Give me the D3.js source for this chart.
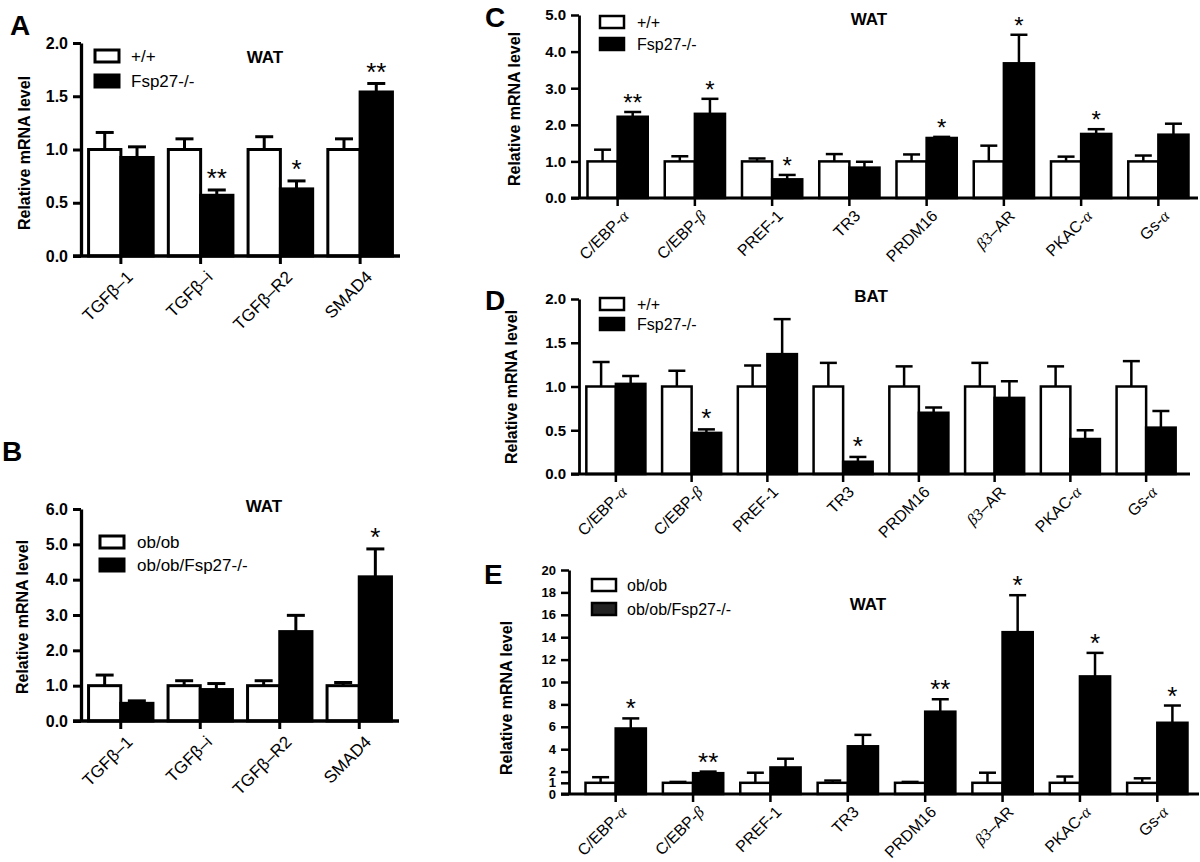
<!DOCTYPE html>
<html>
<head>
<meta charset="utf-8">
<script src="https://cdn.jsdelivr.net/npm/d3@7"></script>
<style>
  html, body { margin: 0; padding: 0; background: #fff; }
  svg { display: block; font-family: Arial, "Liberation Sans", sans-serif; }
</style>
</head>
<body>
<svg id="fig" width="1200" height="862"></svg>
<script>
// Gene panels. Means are relative to wild type (1.0),
// errors are the upward SEM bar length.
const tgfGenes = ["TGFβ–1", "TGFβ–i", "TGFβ–R2", "SMAD4"];
const fatGenes = ["C/EBP-α", "C/EBP-β", "PREF-1", "TR3", "PRDM16", "β3–AR", "PKAC-α", "Gs-α"];

// A: WAT, +/+ vs Fsp27-/-
const aWtMean = [1, 1, 1, 1];
const aWtErr = [0.16, 0.10, 0.12, 0.10];
const aKoMean = [0.925, 0.57, 0.63, 1.54];
const aKoErr = [0.10, 0.05, 0.075, 0.08];
const aStars = ["", "**", "*", "**"];

// B: WAT, ob/ob vs ob/ob/Fsp27-/-
const bWtMean = [1, 1, 1, 1];
const bWtErr = [0.30, 0.14, 0.14, 0.09];
const bKoMean = [0.50, 0.89, 2.53, 4.08];
const bKoErr = [0.07, 0.17, 0.46, 0.79];
const bStars = ["", "", "", "*"];

// C: WAT, +/+ vs Fsp27-/-
const cWtMean = [1, 1, 1, 1, 1, 1, 1, 1];
const cWtErr = [0.32, 0.14, 0.08, 0.20, 0.19, 0.43, 0.13, 0.16];
const cKoMean = [2.22, 2.30, 0.51, 0.83, 1.64, 3.68, 1.75, 1.73];
const cKoErr = [0.13, 0.41, 0.12, 0.16, 0.03, 0.78, 0.13, 0.30];
const cStars = ["**", "*", "*", "", "*", "*", "*", ""];

// D: BAT, +/+ vs Fsp27-/-
const dWtMean = [1, 1, 1, 1, 1, 1, 1, 1];
const dWtErr = [0.28, 0.18, 0.24, 0.27, 0.23, 0.27, 0.23, 0.29];
const dKoMean = [1.03, 0.47, 1.37, 0.14, 0.70, 0.87, 0.40, 0.53];
const dKoErr = [0.09, 0.04, 0.40, 0.055, 0.06, 0.19, 0.10, 0.19];
const dStars = ["", "*", "", "*", "", "", "", ""];

// E: WAT, ob/ob vs ob/ob/Fsp27-/-
const eWtMean = [1, 1, 1, 1, 1, 1, 1, 1];
const eWtErr = [0.5, 0.08, 0.9, 0.2, 0.08, 0.9, 0.56, 0.4];
const eKoMean = [5.85, 1.86, 2.37, 4.26, 7.35, 14.45, 10.5, 6.36];
const eKoErr = [0.9, 0.14, 0.78, 1.02, 1.11, 3.3, 2.1, 1.54];
const eStars = ["*", "**", "", "", "**", "*", "*", "*"];

const tick2 = [0, 0.5, 1.0, 1.5, 2.0];
const tick5 = [0, 1, 2, 3, 4, 5];
const tick6 = [0, 1, 2, 3, 4, 5, 6];
const tick20 = [0, 1, 2, 4, 6, 8, 10, 12, 14, 16, 18, 20];

const svg = d3.select("#fig");

// Greek letters in the C/D/E gene names are set in an italic serif, like the original.
function labelText(sel, s, greekSerif) {
  if (!greekSerif) { sel.text(s); return; }
  s.split(/(β3|α|β)/).filter((p) => p).forEach((p) => {
    const t = sel.append("tspan").text(p);
    if (/^(β3|α|β)$/.test(p)) t.attr("font-family", "'Liberation Serif', 'DejaVu Serif', serif").attr("font-style", "italic");
  });
}

function panel(o) {
  const g = svg.append("g");
  const y = d3.scaleLinear().domain([0, o.ymax]).range([o.y0, o.y1]);
  const x0 = d3.scaleBand().domain(o.genes).range(o.band).paddingInner(o.pad).paddingOuter(o.pad / 2);
  const x1 = d3.scaleBand().domain(["wt", "ko"]).range([0, x0.bandwidth()]);

  const rows = o.genes.map((gene, i) => ({
    gene, star: o.stars[i],
    bars: [
      { k: "wt", v: o.wt[i], e: o.wtErr[i] },
      { k: "ko", v: o.ko[i], e: o.koErr[i] },
    ],
  }));

  // y axis
  const yAxis = d3.axisLeft(y).tickValues(o.ticks).tickFormat(o.fmt).tickSize(8).tickSizeOuter(0).tickPadding(5);
  const ya = g.append("g").attr("transform", `translate(${o.axisX},0)`).call(yAxis);
  ya.select(".domain").attr("stroke-width", o.sw + 0.3);
  ya.selectAll(".tick line").attr("stroke-width", o.sw);
  ya.selectAll(".tick text").attr("font-size", o.tickFs).attr("font-weight", "bold").attr("fill", "#000")
    .attr("font-family", "Arial, 'Liberation Sans', sans-serif");

  // bars
  const grp = g.selectAll(".gene").data(rows).join("g")
    .attr("transform", (d) => `translate(${x0(d.gene)},0)`);
  const bw = x1.bandwidth();
  grp.selectAll("line.err").data((d) => d.bars).join("line").attr("class", "err")
    .attr("x1", (d) => x1(d.k) + bw / 2).attr("x2", (d) => x1(d.k) + bw / 2)
    .attr("y1", (d) => y(d.v)).attr("y2", (d) => y(d.v + d.e))
    .attr("stroke", "#000").attr("stroke-width", o.sw);
  grp.selectAll("line.cap").data((d) => d.bars).join("line").attr("class", "cap")
    .attr("x1", (d) => x1(d.k) + bw / 2 - o.cap / 2).attr("x2", (d) => x1(d.k) + bw / 2 + o.cap / 2)
    .attr("y1", (d) => y(d.v + d.e)).attr("y2", (d) => y(d.v + d.e))
    .attr("stroke", "#000").attr("stroke-width", o.sw);
  grp.selectAll("rect").data((d) => d.bars).join("rect")
    .attr("x", (d) => x1(d.k)).attr("width", bw)
    .attr("y", (d) => y(d.v)).attr("height", (d) => y(0) - y(d.v))
    .attr("fill", (d) => (d.k === "wt" ? "#fff" : "#000"))
    .attr("stroke", "#000").attr("stroke-width", o.sw);

  // significance stars above the knockout bar
  grp.append("text")
    .attr("x", x1("ko") + bw / 2)
    .attr("y", (d) => y(d.bars[1].v + d.bars[1].e) - o.starGap + 0.58 * o.starFs)
    .attr("text-anchor", "middle").attr("font-size", o.starFs)
    .text((d) => d.star);

  // x axis line and ticks
  g.append("line").attr("x1", o.axisX - 8).attr("x2", o.axisEnd).attr("y1", o.y0).attr("y2", o.y0)
    .attr("stroke", "#000").attr("stroke-width", o.sw + 0.3);
  g.selectAll("line.xt").data(o.genes).join("line").attr("class", "xt")
    .attr("x1", (d) => x0(d) + x0.bandwidth() / 2).attr("x2", (d) => x0(d) + x0.bandwidth() / 2)
    .attr("y1", o.y0).attr("y2", o.y0 + 8).attr("stroke", "#000").attr("stroke-width", o.sw);
  // gene names slanted up-right at 45 degrees, ending just right of their tick
  g.selectAll("text.xl").data(o.genes).join("text").attr("class", "xl")
    .attr("transform", (d) => `translate(${x0(d) + x0.bandwidth() / 2 + o.lblDx},${o.y0 + o.lblDy}) rotate(-45)`)
    .attr("text-anchor", "end").attr("font-size", o.lblFs)
    .each(function (d) { labelText(d3.select(this), d, o.greekSerif); });

  // axis title
  g.append("text").attr("transform", `translate(${o.titleX},${o.titleY}) rotate(-90)`)
    .attr("text-anchor", "middle").attr("font-size", 16).attr("font-weight", "bold")
    .text("Relative mRNA level");

  // tissue label
  g.append("text").attr("x", o.tissueX).attr("y", o.tissueY).attr("text-anchor", "middle")
    .attr("font-size", 17).attr("font-weight", "bold").text(o.tissue);

  // legend
  o.legend.forEach((name, i) => {
    const ly = o.legY[i];
    g.append("rect").attr("x", o.legX).attr("y", ly).attr("width", 24).attr("height", 12)
      .attr("fill", i === 0 ? "#fff" : o.legDark).attr("stroke", "#000").attr("stroke-width", o.sw);
    g.append("text").attr("x", o.legX + o.legTx).attr("y", ly + 12).attr("font-size", o.legFs).text(name);
  });

  // panel letter
  g.append("text").attr("x", o.letterX).attr("y", o.letterY).attr("font-size", 28)
    .attr("font-weight", "bold").text(o.letter);
}

const small = { sw: 2.5, cap: 17, tickFs: 15, lblFs: 16, lblDx: 12, lblDy: 19, legFs: 16, pad: 0.22, greekSerif: true, legDark: "#000" };
const big = { sw: 3, cap: 18, tickFs: 16, lblFs: 17, lblDx: 13, lblDy: 22, legFs: 17, pad: 0.19, greekSerif: false, legDark: "#000" };

panel(Object.assign({}, big, {
  letter: "A", letterX: 10, letterY: 35, genes: tgfGenes,
  wt: aWtMean, wtErr: aWtErr, ko: aKoMean, koErr: aKoErr, stars: aStars,
  ymax: 2, y0: 256, y1: 43, ticks: tick2, fmt: d3.format(".1f"),
  axisX: 81, axisEnd: 400, band: [81, 400], starFs: 26, starGap: 18,
  titleX: 30, titleY: 153, tissue: "WAT", tissueX: 265, tissueY: 63,
  legend: ["+/+", "Fsp27-/-"], legX: 95, legY: [50, 75], legTx: 36,
}));

panel(Object.assign({}, big, {
  letter: "B", letterX: 2, letterY: 461, genes: tgfGenes,
  wt: bWtMean, wtErr: bWtErr, ko: bKoMean, koErr: bKoErr, stars: bStars,
  ymax: 6, y0: 721, y1: 509, ticks: tick6, fmt: d3.format(".1f"),
  axisX: 81, axisEnd: 399, band: [81, 399], starFs: 26, starGap: 18,
  titleX: 28, titleY: 617, tissue: "WAT", tissueX: 264, tissueY: 512,
  legend: ["ob/ob", "ob/ob/Fsp27-/-"], legX: 100, legY: [536, 559], legTx: 37,
}));

panel(Object.assign({}, small, {
  letter: "C", letterX: 485, letterY: 27, genes: fatGenes,
  wt: cWtMean, wtErr: cWtErr, ko: cKoMean, koErr: cKoErr, stars: cStars,
  ymax: 5, y0: 198, y1: 15, ticks: tick5, fmt: d3.format(".1f"),
  axisX: 579, axisEnd: 1198, band: [579, 1197], starFs: 24, starGap: 15,
  titleX: 520, titleY: 109, tissue: "WAT", tissueX: 869, tissueY: 25,
  legend: ["+/+", "Fsp27-/-"], legX: 600, legY: [16, 38], legTx: 37,
}));

panel(Object.assign({}, small, {
  letter: "D", letterX: 485, letterY: 310, genes: fatGenes,
  wt: dWtMean, wtErr: dWtErr, ko: dKoMean, koErr: dKoErr, stars: dStars,
  ymax: 2, y0: 474, y1: 299, ticks: tick2, fmt: d3.format(".1f"),
  axisX: 579, axisEnd: 1190, band: [578, 1184], starFs: 26, starGap: 17,
  titleX: 517, titleY: 387, tissue: "BAT", tissueX: 871, tissueY: 302,
  legend: ["+/+", "Fsp27-/-"], legX: 600, legY: [298, 318], legTx: 37,
}));

panel(Object.assign({}, small, {
  letter: "E", letterX: 484, letterY: 584, genes: fatGenes,
  wt: eWtMean, wtErr: eWtErr, ko: eKoMean, koErr: eKoErr, stars: eStars,
  ymax: 20, y0: 794, y1: 570, ticks: tick20, fmt: d3.format("d"), tickFs: 13,
  axisX: 569, axisEnd: 1199, band: [577, 1196], starFs: 26, starGap: 16,
  titleX: 512, titleY: 698, tissue: "WAT", tissueX: 868, tissueY: 610,
  legend: ["ob/ob", "ob/ob/Fsp27-/-"], legX: 592, legY: [579, 603], legTx: 35, legDark: "#222",
}));
</script>
</body>
</html>
